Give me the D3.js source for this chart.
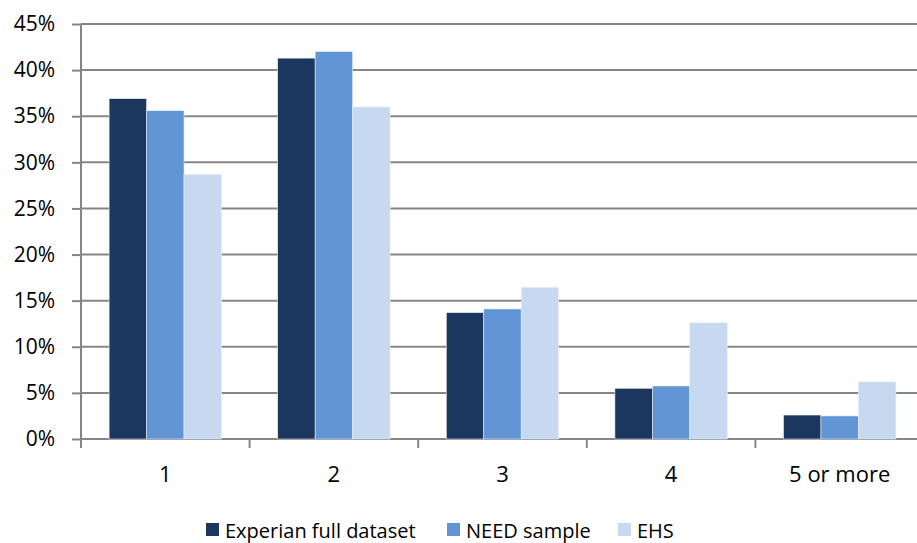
<!DOCTYPE html>
<html>
<head>
<meta charset="utf-8">
<script src="https://cdn.jsdelivr.net/npm/d3@7"></script>
<style>
  html, body { margin: 0; padding: 0; background: #fff; }
  svg { display: block; }
  text { font-family: "Open Sans", "Noto Sans", sans-serif; fill: #000; }
</style>
</head>
<body>
<svg id="chart" width="917" height="543"></svg>
<script>
// Household size categories
const categories = ["1", "2", "3", "4", "5 or more"];

// Share of households (%) per source
const seriesNames = ["Experian full dataset", "NEED sample", "EHS"];
const experian = [36.9, 41.3, 13.7, 5.5, 2.6];
const need = [35.6, 42.0, 14.1, 5.75, 2.5];
const ehs = [28.7, 36.0, 16.45, 12.6, 6.2];

const yTicks = [0, 5, 10, 15, 20, 25, 30, 35, 40, 45];
const colors = ["#1B375E", "#6195D6", "#C6D9F0"];

const series = [experian, need, ehs];

const svg = d3.select("#chart");
const plotLeft = 81, plotRight = 924, plotTop = 24, plotBottom = 439;

const x0 = d3.scaleBand().domain(categories).range([plotLeft, plotRight]).padding(0);
const x1 = d3.scaleBand().domain(d3.range(series.length))
  .range([0, x0.bandwidth()]).paddingOuter(0.75).paddingInner(0);
const y = d3.scaleLinear().domain([0, 45]).range([plotBottom, plotTop]);

// Horizontal gridlines
svg.append("g")
  .selectAll("line")
  .data(yTicks)
  .join("line")
  .attr("x1", plotLeft).attr("x2", plotRight)
  .attr("y1", d => y(d)).attr("y2", d => y(d))
  .attr("stroke", "#868686").attr("stroke-width", 2);

// Y axis
const yAxis = d3.axisLeft(y).tickValues(yTicks).tickFormat(d => d + "%").tickSize(9).tickPadding(17);
const gy = svg.append("g").attr("transform", `translate(${plotLeft},0)`).call(yAxis);
gy.select(".domain").attr("stroke", "#868686").attr("stroke-width", 2)
  .attr("d", `M0,${plotTop}V${plotBottom}`);
gy.selectAll(".tick line").attr("stroke", "#868686").attr("stroke-width", 2);
gy.selectAll(".tick text").attr("font-size", 21).attr("font-family", "Open Sans").attr("fill", "#000");

// X axis with ticks between categories
const gx = svg.append("g").attr("transform", `translate(0,${plotBottom})`);
gx.append("line").attr("x1", plotLeft).attr("x2", plotRight).attr("y1", 0).attr("y2", 0)
  .attr("stroke", "#868686").attr("stroke-width", 2);
const boundaries = categories.map(c => x0(c)).concat([x0(categories[categories.length - 1]) + x0.bandwidth()]);
gx.selectAll("line.tk").data(boundaries).join("line").attr("class", "tk")
  .attr("x1", d => d).attr("x2", d => d).attr("y1", 0).attr("y2", 9)
  .attr("stroke", "#868686").attr("stroke-width", 2);
gx.selectAll("text").data(categories).join("text")
  .attr("x", d => x0(d) + x0.bandwidth() / 2)
  .attr("y", 43)
  .attr("text-anchor", "middle")
  .attr("font-size", 22)
  .text(d => d);

// Bars
const groups = svg.append("g").selectAll("g")
  .data(categories)
  .join("g")
  .attr("transform", d => `translate(${x0(d)},0)`);
groups.selectAll("rect")
  .data((c, ci) => series.map((s, si) => ({ si, v: s[ci] })))
  .join("rect")
  .attr("x", d => x1(d.si))
  .attr("width", x1.bandwidth())
  .attr("y", d => y(d.v))
  .attr("height", d => y(0) - y(d.v))
  .attr("fill", d => colors[d.si])
  .attr("stroke", "#e8eef7").attr("stroke-width", 0.6);

// Legend
const legendX = [206, 447, 618];
const legend = svg.append("g").selectAll("g")
  .data(seriesNames)
  .join("g")
  .attr("transform", (d, i) => `translate(${legendX[i]},523)`);
legend.append("rect").attr("width", 13).attr("height", 13).attr("fill", (d, i) => colors[i]);
legend.append("text").attr("x", 19).attr("y", 14.5).attr("font-size", 20).text(d => d);
</script>
</body>
</html>
